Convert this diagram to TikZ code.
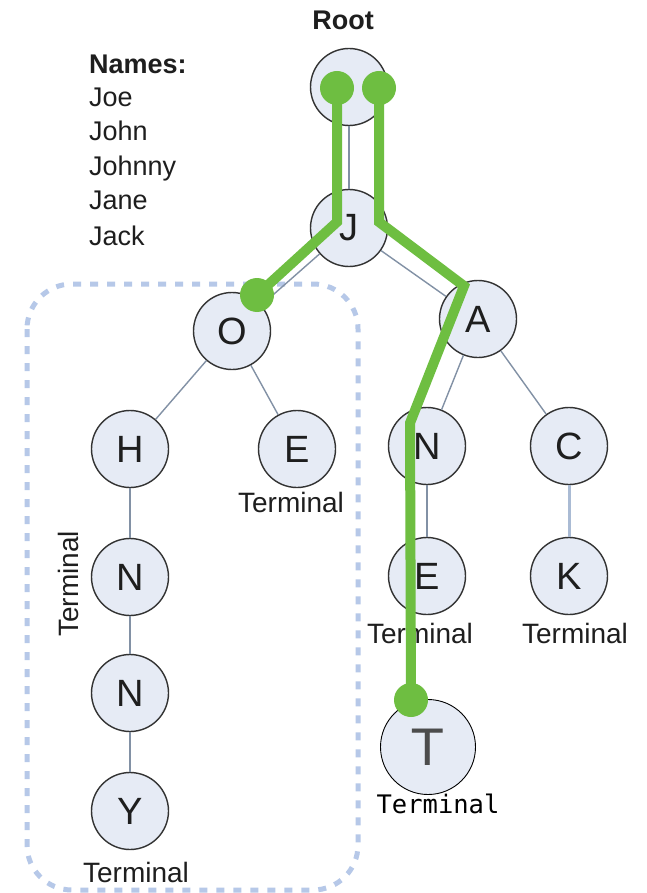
\documentclass[tikz,border=0pt]{standalone}
\usepackage{fontspec}
\setmainfont{Liberation Sans}
\newfontfamily\dejavu{DejaVu Sans}
\newfontfamily\dejamono{DejaVu Sans Mono}
\definecolor{nodefill}{RGB}{230,235,245}
\definecolor{edgecol}{RGB}{130,145,165}
\definecolor{edgelight}{RGB}{170,187,212}
\definecolor{grn}{RGB}{110,190,65}
\definecolor{dashblue}{RGB}{182,200,232}
\definecolor{txt}{RGB}{30,30,30}
\begin{document}
\begin{tikzpicture}[x=1pt,y=-1pt,
  tn/.style={circle, draw=black!80, line width=1.4pt, fill=nodefill, minimum size=77pt, inner sep=0pt,
    font=\fontsize{38}{38}\selectfont, text=txt},
  bign/.style={circle, draw=black, line width=0.9pt, fill=nodefill, minimum size=95pt, inner sep=0pt,
    font=\dejavu\fontsize{50}{50}\selectfont, text=black!70},
  lbl/.style={inner sep=0pt, font=\fontsize{27}{27}\selectfont, text=txt},
  tlbl/.style={inner sep=0pt, font=\fontsize{28}{28}\selectfont, text=txt},
  treeedge/.style={draw=edgecol, line width=1.4pt},
  greenpath/.style={draw=grn, line width=10pt},
  gdot/.style={fill=grn}]
\useasboundingbox (0,0) rectangle (647,893);
\fill[white] (0,0) rectangle (647,893);

% grouping box
\draw[dashblue, line width=5pt, dash pattern=on 8pt off 9pt, rounded corners=45pt]
  (27,284) rectangle (358,890);

% names list
\node[lbl, anchor=base west, font=\bfseries\fontsize{27}{27}\selectfont] (nm0) at (89,74) {Names:};
\node[lbl, anchor=base west] (nm1) at (89,107) {Joe};
\node[lbl, anchor=base west] (nm2) at (89,141) {John};
\node[lbl, anchor=base west] (nm3) at (89,176) {Johnny};
\node[lbl, anchor=base west] (nm4) at (89,210) {Jane};
\node[lbl, anchor=base west] (nm5) at (89,245) {Jack};

% tree nodes
\node[tn] (root) at (349,87) {};
\node[lbl, anchor=base, font=\bfseries\fontsize{27}{27}\selectfont] (rootlbl) at (343,30) {Root};
\node[tn] (J) at (349,228) {J};
\node[tn] (O) at (232,331) {O};
\node[tn] (A) at (478,319) {A};
\node[tn] (H) at (130,449) {H};
\node[tn] (E1) at (297,449) {E};
\node[tn] (N) at (427,446) {N};
\node[tn] (C) at (569,446) {C};
\node[tn] (N1) at (130,577) {N};
\node[tn] (E2) at (427,576) {E};
\node[tn] (K) at (569,576) {K};
\node[tn] (N2) at (130,693) {N};
\node[tn] (Y) at (130,811) {Y};
\node[bign] (T) at (428,747) {T};

% terminal labels
\node[tlbl, anchor=base] (tE1) at (291,512) {Terminal};
\node[tlbl, anchor=base] (tE2) at (420,643) {Terminal};
\node[tlbl, anchor=base] (tK) at (575,643) {Terminal};
\node[tlbl, anchor=base] (tY) at (136,882) {Terminal};
\node[tlbl, rotate=90] (tN1) at (68,584) {Terminal};
\node[inner sep=0pt, anchor=base, font=\dejamono\fontsize{25.5}{25.5}\selectfont, text=black] (tT) at (438,813) {Terminal};

% tree edges
\draw[treeedge] (root) -- (J);
\draw[treeedge] (J) -- (O);
\draw[treeedge] (J) -- (A);
\draw[treeedge] (O) -- (H);
\draw[treeedge] (O) -- (E1);
\draw[treeedge] (A) -- (N);
\draw[treeedge] (A) -- (C);
\draw[treeedge] (N) -- (E2);
\draw[draw=edgelight, line width=3pt] (C) -- (K);
\draw[treeedge] (H) -- (N1);
\draw[treeedge] (N1) -- (N2);
\draw[treeedge] (N2) -- (Y);

% green search paths
\coordinate (g1a) at (337,88);
\coordinate (g1b) at (337,222);
\coordinate (g1c) at (257,295);
\coordinate (g2a) at (379,88);
\coordinate (g2b) at (379,222);
\coordinate (g2c) at (464,286);
\coordinate (g2d) at (410,423);
\coordinate (g2e) at (411,700);
\draw[greenpath] (g1a) -- (g1b) -- (g1c);
\draw[greenpath] (g2a) -- (g2b) -- (g2c) -- (g2d) -- (g2e);
\fill[gdot] (g1a) circle (17pt);
\fill[gdot] (g2a) circle (17pt);
\fill[gdot] (g1c) circle (17pt);
\fill[gdot] (g2e) circle (17pt);
\end{tikzpicture}
\end{document}
